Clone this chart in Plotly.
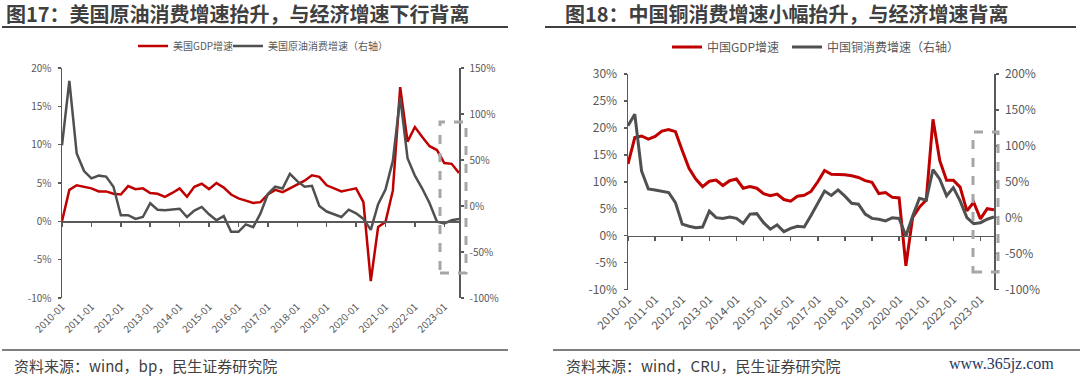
import plotly.graph_objects as go

# ---------------- data ----------------
# quarterly observations, labelled by month of quarter start
quarters = [f"{y}-{m:02d}" for y in range(2010, 2024) for m in (1, 4, 7, 10)][:55]

us_gdp = [0.0, 4.1, 4.7, 4.5, 4.3, 3.9, 3.9, 3.6, 3.5, 4.6, 4.2, 4.3, 3.7, 3.6, 3.2, 3.7,
          4.3, 3.2, 4.5, 4.9, 4.2, 5.0, 4.4, 3.5, 3.0, 2.7, 2.4, 2.5, 3.5, 4.1, 3.8, 4.3,
          4.8, 5.3, 6.0, 5.8, 4.7, 4.3, 3.9, 4.1, 4.3, 2.5, -7.8, -0.75, -0.1, 4.0, 17.5,
          10.4, 12.3, 11.0, 9.8, 9.3, 7.6, 7.5, 6.3]
us_oil = [66, 136, 57, 38, 30, 33, 32, 21, -10, -10, -14, -12, 3, -4, -4.7, -4,
          -3, -12, -5, -1, -9, -15.5, -11, -28, -28, -20, -23, -8, 13, 21, 19, 35,
          27, 21, 22, 0, -6, -9, -12, -4, -8, -14, -26, 2, 18, 49, 118,
          52, 33, 19, 3, -17, -19, -15.5, -14]

cn_gdp = [13.3, 18.2, 18.5, 17.9, 18.4, 19.4, 19.7, 19.3, 15.8, 12.5, 10.5, 9.1, 10.1, 10.3, 9.3, 10.2,
          10.5, 8.8, 9.1, 8.8, 7.8, 7.4, 7.7, 6.7, 6.4, 7.3, 7.5, 8.2, 10.0, 12.1, 11.4, 11.4,
          11.3, 11.1, 10.8, 10.2, 9.9, 7.8, 8.0, 7.1, 7.0, -5.6, 3.4, 5.3, 6.6, 21.6, 13.9,
          10.3, 10.3, 9.0, 4.6, 6.2, 3.1, 5.0, 4.8]
cn_copper = [128, 144, 65, 40, 38.6, 37.2, 35, 21, -9, -12, -14, -13, 9, 0, -1, 1,
             -1, -8, 5, 5.6, -7, -16, -10, -19.5, -15, -12, -13, 3, 20, 37, 31, 38.6,
             30, 20, 18.7, 5, -1, -2.2, -4.6, 0, -1, -25.5, 2.4, 27, 24.3, 67, 53.6,
             30.3, 41.8, 23.3, 0, -8.4, -7, -2.2, 1]

left_ticks = [-10, -5, 0, 5, 10, 15, 20]
right_ticks_us = [-100, -50, 0, 50, 100, 150]
left_ticks_cn = [-10, -5, 0, 5, 10, 15, 20, 25, 30]
right_ticks_cn = [-100, -50, 0, 50, 100, 150, 200]

names = ["美国GDP增速", "美国原油消费增速（右轴）", "中国GDP增速", "中国铜消费增速（右轴）"]
titles = ["图17：美国原油消费增速抬升，与经济增速下行背离", "图18：中国铜消费增速小幅抬升，与经济增速背离"]
sources = ["资料来源：wind，bp，民生证券研究院", "资料来源：wind，CRU，民生证券研究院"]

# ---------------- styling ----------------
W, H = 1080, 379
RED = "#C00000"
GRAY = "#505050"
AX = "#595959"
TXT = "#595959"
FONT = "Noto Sans CJK SC"


def px(x):
    return x / W


def py(y):
    return 1 - y / H


xi = list(range(len(quarters)))
tickvals = [i for i, q in enumerate(quarters) if q.endswith("-01")]
ticktext = [quarters[i] for i in tickvals]
xrange_ = [0, len(quarters) - 1]

fig = go.Figure()
fig.add_trace(go.Scatter(x=xi, y=us_gdp, name=names[0], mode="lines", legendwidth=50,
                         line=dict(color=RED, width=2.5), xaxis="x", yaxis="y", legend="legend"))
fig.add_trace(go.Scatter(x=xi, y=us_oil, name=names[1], mode="lines", legendwidth=130,
                         line=dict(color=GRAY, width=2.5), xaxis="x", yaxis="y2", legend="legend"))
fig.add_trace(go.Scatter(x=xi, y=cn_gdp, name=names[2], mode="lines", legendwidth=75,
                         line=dict(color=RED, width=3), xaxis="x2", yaxis="y3", legend="legend2"))
fig.add_trace(go.Scatter(x=xi, y=cn_copper, name=names[3], mode="lines", legendwidth=140,
                         line=dict(color=GRAY, width=3), xaxis="x2", yaxis="y4", legend="legend2"))
# helper traces so the zero-crossing category axes are drawn
fig.add_trace(go.Scatter(x=[None], y=[None], xaxis="x3", yaxis="y", showlegend=False, hoverinfo="skip"))
fig.add_trace(go.Scatter(x=[None], y=[None], xaxis="x4", yaxis="y3", showlegend=False, hoverinfo="skip"))

L_dom = [px(62), px(459)]
L_ydom = [py(298), py(68)]
R_dom = [px(628), px(994)]
R_ydom = [py(289.5), py(74)]

def yax(rng, ticks, side, fs, anchor, overlay=None, domain=None):
    d = dict(range=rng, tickvals=ticks, ticktext=[f"{t}%" for t in ticks], side=side,
             showgrid=False, zeroline=False, showline=True, linecolor=AX, linewidth=1.5,
             ticks="outside", ticklen=3, tickwidth=1.5, tickcolor=AX,
             tickfont=dict(size=fs, color=TXT, family=FONT), ticklabelstandoff=4,
             anchor=anchor, automargin=False)
    if overlay:
        d["overlaying"] = overlay
    if domain:
        d["domain"] = domain
    return d

def xlab(domain, anchor, fs):
    return dict(domain=domain, range=xrange_, anchor=anchor, tickvals=tickvals, ticktext=ticktext,
                tickangle=-45, showline=False, showgrid=False, zeroline=False, ticks="",
                tickfont=dict(size=fs, color=TXT, family=FONT), automargin=False)

def xzero(overlay, pos, rng):
    return dict(overlaying=overlay, anchor="free", position=pos, range=rng, tickvals=tickvals,
                showticklabels=False, showline=True, linecolor=AX, linewidth=1.5,
                ticks="outside", ticklen=4, tickwidth=1.5, tickcolor=AX,
                showgrid=False, zeroline=False, automargin=False)

fig.update_layout(
    template="none",
    width=W, height=H, autosize=False,
    margin=dict(l=0, r=0, t=0, b=0, pad=0),
    paper_bgcolor="white", plot_bgcolor="rgba(0,0,0,0)",
    font=dict(family=FONT, color=TXT),
    xaxis=xlab(L_dom, "y", 10),
    xaxis2=xlab(R_dom, "y3", 11.5),
    xaxis3=xzero("x", L_ydom[0] + (L_ydom[1] - L_ydom[0]) / 3, xrange_),
    xaxis4=xzero("x2", R_ydom[0] + (R_ydom[1] - R_ydom[0]) / 4, xrange_),
    yaxis=yax([-10, 20], left_ticks, "left", 10, "x", domain=L_ydom),
    yaxis2=yax([-100, 150], right_ticks_us, "right", 10, "x", overlay="y"),
    yaxis3=yax([-10, 30], left_ticks_cn, "left", 12, "x2", domain=R_ydom),
    yaxis4=yax([-100, 200], right_ticks_cn, "right", 12, "x2", overlay="y3"),
    legend=dict(orientation="h", x=px(133), xanchor="left", y=py(46), yanchor="middle",
                font=dict(size=10, color=TXT, family=FONT),
                bgcolor="rgba(0,0,0,0)", borderwidth=0, itemclick=False),
    legend2=dict(orientation="h", x=px(667), xanchor="left", y=py(47), yanchor="middle",
                 font=dict(size=12, color=TXT, family=FONT),
                 bgcolor="rgba(0,0,0,0)", borderwidth=0, itemclick=False),
    showlegend=True,
)

shapes = []
annotations = []
# title underlines and footer lines
for x0, x1 in [(2, 508), (545, 1076)]:
    shapes.append(dict(type="line", xref="paper", yref="paper", x0=px(x0), x1=px(x1),
                       y0=py(27), y1=py(27), line=dict(color="#404040", width=2)))
for x0, x1 in [(2, 508), (553, 1080)]:
    shapes.append(dict(type="line", xref="paper", yref="paper", x0=px(x0), x1=px(x1),
                       y0=py(350), y1=py(350), line=dict(color="#7f7f7f", width=2)))
# dashed highlight boxes
for x0, x1, y0, y1 in [(440, 466, 122, 273), (973, 998, 132, 272)]:
    shapes.append(dict(type="rect", xref="paper", yref="paper", x0=px(x0), x1=px(x1),
                       y0=py(y1), y1=py(y0), line=dict(color="#a6a6a6", width=3, dash="dash"),
                       fillcolor="rgba(0,0,0,0)", layer="above"))

for t, x in zip(titles, [4, 563]):
    annotations.append(dict(text=f"<b>{t}</b>", xref="paper", yref="paper", x=px(x), y=py(14),
                            xanchor="left", yanchor="middle", showarrow=False,
                            font=dict(size=20, color="#404040", family=FONT)))
for t, x in zip(sources, [12, 564]):
    annotations.append(dict(text=t, xref="paper", yref="paper", x=px(x), y=py(365),
                            xanchor="left", yanchor="middle", showarrow=False,
                            font=dict(size=15, color="#404040", family=FONT)))
annotations.append(dict(text="www.365jz.com", xref="paper", yref="paper", x=px(1056), y=py(364),
                        xanchor="right", yanchor="middle", showarrow=False,
                        font=dict(size=16, color="#1f3864", family="Liberation Serif")))

fig.update_layout(shapes=shapes, annotations=annotations)
fig.write_html("out.html",
               config={"displayModeBar": False, "staticPlot": True},
               post_script="document.body.style.margin='0';document.body.style.overflow='hidden';")
